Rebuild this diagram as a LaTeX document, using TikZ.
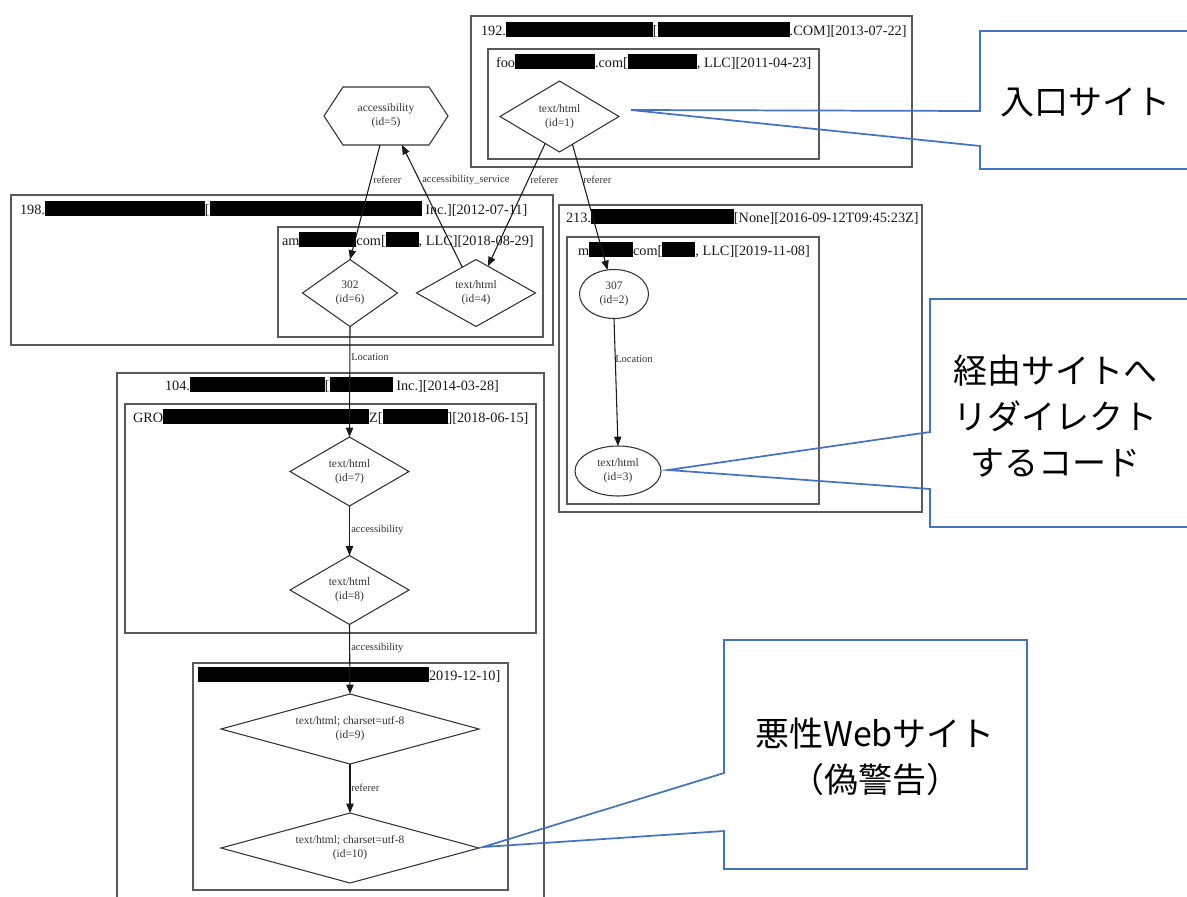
\documentclass[tikz,border=0pt]{standalone}
\usepackage{fontspec}
\setmainfont{Liberation Serif}
\newfontfamily\cjk{Noto Sans CJK JP}
\usetikzlibrary{shapes.geometric,arrows.meta,calc}
\newdimen\px \px=0.75pt
\newcommand\rd[1]{{\color{black}\rule[-1.5pt]{#1\px}{11.25pt}}}
\definecolor{cl}{HTML}{5A5A5A}
\definecolor{nd}{HTML}{333333}
\definecolor{nt}{HTML}{333333}
\definecolor{cb}{HTML}{4472C4}
\begin{document}
\begin{tikzpicture}[x=0.75pt,y=-0.75pt,
  clus/.style={draw=cl, line width=1.2pt},
  ttl/.style={anchor=base west, inner sep=0pt, outer sep=0pt, font=\fontsize{10.7}{12}\selectfont, text=black!90},
  ndtxt/.style={inner sep=0pt, outer sep=0pt, align=center, font=\fontsize{8.6}{10.5}\selectfont, text=nt},
  dia/.style={ndtxt, diamond, draw=nd, line width=0.8pt},
  ell/.style={ndtxt, ellipse, draw=nd, line width=0.8pt},
  edge/.style={-{Triangle[length=7pt,width=5.5pt]}, line width=0.8pt, draw=black!90},
  elab/.style={anchor=west, inner sep=0pt, font=\fontsize{7.9}{9}\selectfont, text=nt},
  callout/.style={draw=cb, line width=1.3pt},
  ctext/.style={align=center, inner sep=0pt, font=\cjk\fontsize{25.5}{34.5}\selectfont, text=black}
]
\useasboundingbox (0,0) rectangle (1187,896);
\clip (0,0) rectangle (1187,896);

% ---------- clusters ----------
\draw[clus] (471,16) rectangle (912,167);
\node[ttl] (t192) at (481,35) {192.\rd{147}[\rd{132}.COM][2013-07-22]};
\draw[clus] (488,49) rectangle (819,159);
\node[ttl] (tfoo) at (496,67) {foo\rd{80}.com[\rd{69}, LLC][2011-04-23]};

\draw[clus] (11,195) rectangle (553,345);
\node[ttl] (t198) at (20,214) {198.\rd{160}[\rd{212} Inc.][2012-07-11]};
\draw[clus] (278,227) rectangle (543,337);
\node[ttl] (tam) at (282,245) {am\rd{57}com[\rd{33}, LLC][2018-08-29]};

\draw[clus] (559,205) rectangle (922,512);
\node[ttl] (t213) at (566,222) {213.\rd{143}[None][2016-09-12T09:45:23Z]};
\draw[clus] (567,237) rectangle (819,504);
\node[ttl] (tm) at (578,255) {m\rd{44}com[\rd{33}, LLC][2019-11-08]};

\draw[clus] (117,373) rectangle (544,910);
\node[ttl] (t104) at (165,390) {104.\rd{135}[\rd{63} Inc.][2014-03-28]};
\draw[clus] (125,404) rectangle (536,633);
\node[ttl] (tgro) at (133,422) {GRO\rd{206}Z[\rd{65}][2018-06-15]};
\draw[clus] (193,663) rectangle (508,890);
\node[ttl] (tlast) at (198,680) {\rd{231}2019-12-10]};

% ---------- nodes ----------
\node[dia, minimum width=119\px, minimum height=71\px, aspect=1.68] (n1) at (559.5,116.5) {text/html\\(id=1)};
\node[ndtxt, minimum width=124\px, minimum height=58\px] (n5) at (386,116) {accessibility\\(id=5)};
\draw[draw=nd, line width=0.8pt] (n5.west) -- ($(n5.north west)+(19,0)$) -- ($(n5.north east)+(-19,0)$)
   -- (n5.east) -- ($(n5.south east)+(-19,0)$) -- ($(n5.south west)+(19,0)$) -- cycle;
\node[dia, minimum width=95\px, minimum height=67\px, aspect=1.42] (n6) at (350,293) {302\\(id=6)};
\node[dia, minimum width=119\px, minimum height=67\px, aspect=1.78] (n4) at (476,293) {text/html\\(id=4)};
\node[ell, minimum width=69\px, minimum height=49\px] (n2) at (614,294) {307\\(id=2)};
\node[ell, minimum width=86\px, minimum height=50\px] (n3) at (618,471) {text/html\\(id=3)};
\node[dia, minimum width=119\px, minimum height=69\px, aspect=1.72] (n7) at (349.5,471.5) {text/html\\(id=7)};
\node[dia, minimum width=119\px, minimum height=69\px, aspect=1.72] (n8) at (349.5,590) {text/html\\(id=8)};
\node[dia, minimum width=258\px, minimum height=70\px, aspect=3.7] (n9) at (350,729) {text/html; charset=utf-8\\(id=9)};
\node[dia, minimum width=258\px, minimum height=70\px, aspect=3.7] (n10) at (350,848) {text/html; charset=utf-8\\(id=10)};

% ---------- edges ----------
\draw[edge] ($(n5.south)+(-6,0)$) -- (n6.north);
\draw[edge] (n4.118) -- ($(n5.south)+(16,0)$);
\draw[edge] (n1.242) -- (n4.66);
\draw[edge] (n1.295) -- (n2.105);
\draw[edge] (n6.south) -- (n7.north);
\draw[edge] (n7.south) -- (n8.north);
\draw[edge] (n8.south) -- (n9.north);
\draw[edge] (n9.south) -- (n10.north);
\draw[edge] (n2.south) -- (n3.north);

\node[elab] (l56) at (373,180) {referer};
\node[elab] (l45) at (422,180) {accessibility\_service};
\node[elab] (l14) at (530,180) {referer};
\node[elab] (l12) at (583,180) {referer};
\node[elab] (l67) at (351,357) {Location};
\node[elab] (l23) at (615,359) {Location};
\node[elab] (l78) at (351,530) {accessibility};
\node[elab] (l89) at (351,648) {accessibility};
\node[elab] (l910) at (351,788) {referer};

% ---------- callouts ----------
\coordinate (tip1) at (631,110);
\coordinate (tip2) at (668,470);
\coordinate (tip3) at (483,847);
\draw[callout] (980,111) -- (980,31) -- (1195,31) -- (1195,169) -- (980,169) -- (980,146) -- (tip1) -- cycle;
\node[ctext] (c1) at (1085,103) {入口サイト};
\draw[callout] (930,432) -- (930,299) -- (1195,299) -- (1195,527) -- (930,527) -- (930,489) -- (tip2) -- cycle;
\node[ctext] (c2) at (1055,416) {経由サイトへ\\リダイレクト\\するコード};
\draw[callout] (724,773) -- (724,640) -- (1027,640) -- (1027,869) -- (724,869) -- (724,831) -- (tip3) -- cycle;
\node[ctext] (c3) at (875,757) {悪性Webサイト\\（偽警告）};
\end{tikzpicture}
\end{document}
